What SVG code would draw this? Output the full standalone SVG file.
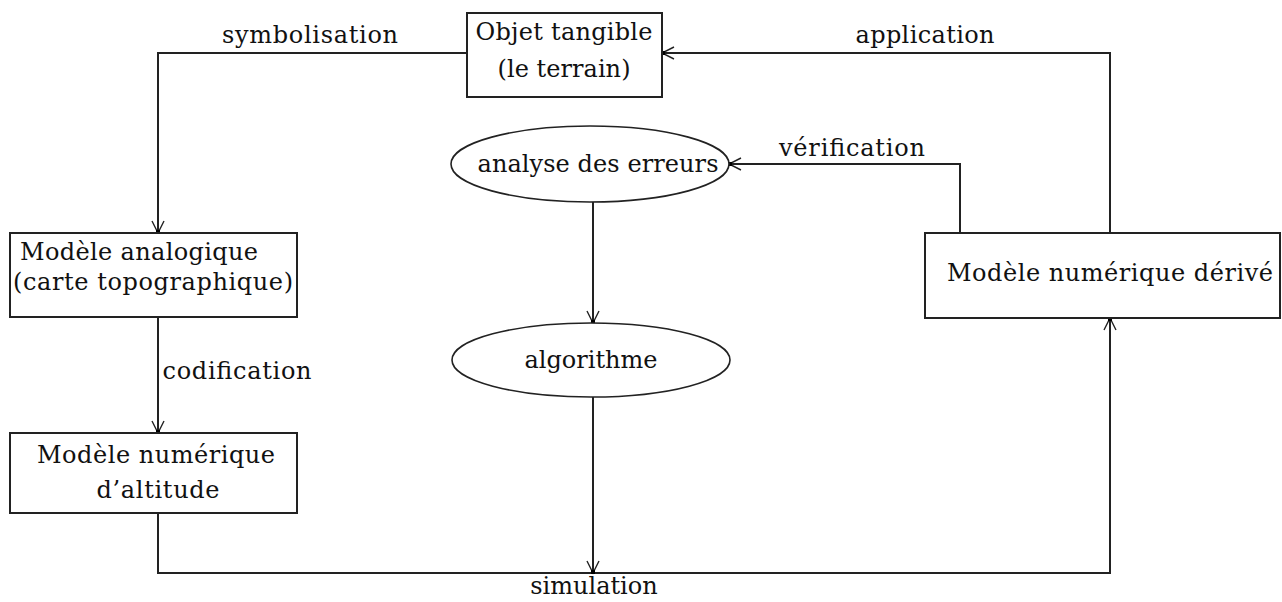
<svg xmlns="http://www.w3.org/2000/svg" width="1282" height="602" viewBox="0 0 1282 602">
<style>
.box{fill:#fff;stroke:#222;stroke-width:2}
.ell{fill:#fff;stroke:#222;stroke-width:1.6}
.ln{fill:none;stroke:#222;stroke-width:2}
text{font-family:"DejaVu Serif","Liberation Serif",serif;font-size:24px;fill:#111;text-anchor:middle}
</style>
<defs>
<marker id="arr" markerUnits="userSpaceOnUse" markerWidth="30" markerHeight="30" refX="0" refY="0" viewBox="-15 -15 30 30" orient="auto" overflow="visible">
<path d="M-12,-6 L0,0 L-12,6" fill="none" stroke="#222" stroke-width="1.4"/>
<rect x="-3" y="-2" width="4" height="4" fill="#000"/>
</marker>
</defs>
<rect width="1282" height="602" fill="#fff"/>
<g id="connectors">
<path class="ln" d="M467,53 H158 V233" marker-end="url(#arr)"/>
<path class="ln" d="M158,317 V433" marker-end="url(#arr)"/>
<path class="ln" d="M158,513 V573 H1110 V318" marker-end="url(#arr)"/>
<path class="ln" d="M593,397 V573" marker-end="url(#arr)"/>
<path class="ln" d="M593,202 V323" marker-end="url(#arr)"/>
<path class="ln" d="M960,233 V164 H729" marker-end="url(#arr)"/>
<path class="ln" d="M1110,233 V53 H662" marker-end="url(#arr)"/>
<text x="310" y="43" textLength="176" lengthAdjust="spacing">symbolisation</text>
<text x="925" y="43" textLength="139" lengthAdjust="spacing">application</text>
<text x="852" y="156" textLength="146" lengthAdjust="spacing">vérification</text>
<text x="237" y="379" textLength="149" lengthAdjust="spacing">codification</text>
<text x="594" y="594">simulation</text>
</g>
<g id="objet">
<rect class="box" x="467" y="13" width="195" height="84"/>
<text x="564" y="40" textLength="177" lengthAdjust="spacing">Objet tangible</text>
<text x="564" y="77" textLength="133" lengthAdjust="spacing">(le terrain)</text>
</g>
<g id="analogique">
<rect class="box" x="10" y="233" width="287" height="84"/>
<text x="139" y="260" textLength="238" lengthAdjust="spacing">Modèle analogique</text>
<text x="153" y="290" textLength="280" lengthAdjust="spacing">(carte topographique)</text>
</g>
<g id="altitude">
<rect class="box" x="10" y="433" width="287" height="80"/>
<text x="156" y="463" textLength="238" lengthAdjust="spacing">Modèle numérique</text>
<text x="158" y="498" textLength="123" lengthAdjust="spacing">d’altitude</text>
</g>
<g id="analyse">
<ellipse class="ell" cx="590" cy="164" rx="139" ry="38"/>
<text x="598" y="172" textLength="241" lengthAdjust="spacing">analyse des erreurs</text>
</g>
<g id="algorithme">
<ellipse class="ell" cx="591" cy="360" rx="139" ry="37"/>
<text x="591" y="368">algorithme</text>
</g>
<g id="derive">
<rect class="box" x="925" y="233" width="355" height="85"/>
<text x="1110" y="281" textLength="326" lengthAdjust="spacing">Modèle numérique dérivé</text>
</g>
</svg>
